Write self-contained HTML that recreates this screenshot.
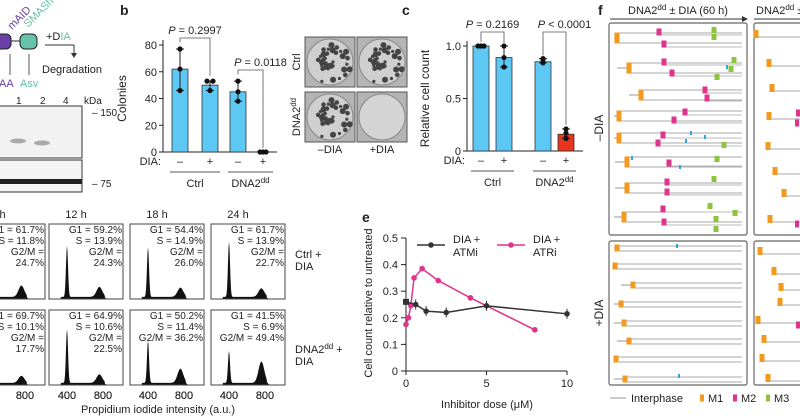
<!DOCTYPE html>
<html><head><meta charset="utf-8"><style>
body{margin:0;background:#fff;width:800px;height:419px;overflow:hidden;font-family:"Liberation Sans",sans-serif}
svg{position:absolute;left:0;top:0}
text{font-family:"Liberation Sans",sans-serif;fill:#222}
</style></head><body>
<svg id="fig" width="800" height="419" viewBox="0 0 800 419">
 <g>
  <rect x="-6" y="34" width="17" height="15" rx="5" fill="#6a3fa6" stroke="#222"/>
  <line x1="11" y1="41" x2="20" y2="41" stroke="#222"/>
  <rect x="20" y="34" width="17" height="15" rx="5" fill="#66c2aa" stroke="#222"/>
  <text x="12" y="30" font-size="11" style="fill:#6a3fa6" transform="rotate(-45 12 30)">mAID</text>
  <text x="28" y="28" font-size="11" style="fill:#66c2aa" transform="rotate(-45 28 28)">SMASh</text>
  <line x1="10" y1="75" x2="10" y2="54" stroke="#555"/><line x1="29" y1="75" x2="29" y2="54" stroke="#555"/>
  <text x="-4" y="87" font-size="11" style="fill:#6a3fa6">IAA</text><text x="20" y="87" font-size="11" style="fill:#66c2aa">Asv</text>
  <text x="46" y="40" font-size="11">+D<tspan style="fill:#66c2aa">IA</tspan></text>
  <path d="M45 45 H74 V56" fill="none" stroke="#333"/><path d="M71 53 L74 58 L77 53" fill="#333"/>
  <text x="42" y="73" font-size="11">Degradation</text>
  <text x="16" y="104" font-size="10">1</text><text x="40" y="104" font-size="10">2</text><text x="63" y="104" font-size="10">4</text><text x="84" y="104" font-size="10">kDa</text>
  <rect x="-2" y="106" width="84" height="52" fill="#f2f2f2" stroke="#333"/>
  <ellipse cx="18" cy="141" rx="8" ry="2.5" fill="#aaa"/><ellipse cx="42" cy="143" rx="8" ry="2.5" fill="#aaa"/>
  <rect x="-2" y="160" width="84" height="32" fill="#f4f4f4" stroke="#333"/>
  <rect x="-2" y="179" width="84" height="5" fill="#222"/>
  <text x="92" y="116" font-size="10">– 150</text><text x="92" y="187" font-size="10">– 75</text>
 </g>
 <text x="120" y="15" font-size="14" font-weight="bold">b</text>
 <text x="402" y="15" font-size="14" font-weight="bold">c</text>
 <text x="598" y="15" font-size="14" font-weight="bold">f</text>
 <text x="362" y="222" font-size="14" font-weight="bold">e</text>
 <g id="pb"></g>
 <g id="plates"></g>
 <g id="pc"></g>
 <g id="pd"></g>
 <g id="pe"></g>
 <g id="pf"></g>
</svg>
<script>
const NS="http://www.w3.org/2000/svg";
function mk(p,t,a,txt){const e=document.createElementNS(NS,t);for(const k in a)e.setAttribute(k,a[k]);if(txt!==undefined)e.textContent=txt;p.appendChild(e);return e;}
// ---- data ----
const bCats=["Ctrl –","Ctrl +","DNA2 –","DNA2 +"];
const bMeans=[62,50,45,0];
const bPoints=[[77,62,46],[53,46,53],[53,45,38],[0,0,0]];
const bTicks=[0,20,40,60,80];
const cMeans=[1.0,0.89,0.85,0.16];
const cPoints=[[1,1,1],[1.0,0.89,0.8],[0.88,0.87,0.84],[0.21,0.12,0.17]];
const cTicks=[0,0.5,1.0];
const eAtmX=[0,0.6,1.25,2.5,5,10];
const eAtmY=[0.26,0.25,0.225,0.22,0.245,0.215];
const eAtrX=[0,0.15,0.3,0.5,1,2,4,8];
const eAtrY=[0.175,0.2,0.245,0.35,0.385,0.34,0.275,0.155];
const eYTicks=[0,0.1,0.2,0.3,0.4,0.5];
const eXTicks=[0,5,10];
const dTimes=["0 h","12 h","18 h","24 h"];
const dCtrlText=[["G1 = 61.7%","S = 11.8%","G2/M =","24.7%"],["G1 = 59.2%","S = 13.9%","G2/M =","24.3%"],["G1 = 54.4%","S = 14.9%","G2/M =","26.0%"],["G1 = 61.7%","S = 13.9%","G2/M =","22.7%"]];
const dDnaText=[["G1 = 69.7%","S = 10.1%","G2/M =","17.7%"],["G1 = 64.9%","S = 10.6%","G2/M =","22.5%"],["G1 = 50.2%","S = 11.4%","G2/M = 36.2%"],["G1 = 41.5%","S = 6.9%","G2/M = 49.4%"]];
const dCtrlG1=[0.75,0.72,0.7,0.78], dCtrlG2=[0.16,0.14,0.13,0.12];
const dDnaG1=[0.72,0.76,0.6,0.45], dDnaG2=[0.1,0.12,0.2,0.3];

function barChart(g,o){
  const y=v=>o.y0-(v-o.min)/(o.max-o.min)*(o.y0-o.y1);
  mk(g,"line",{x1:o.ax,y1:o.y1-5,x2:o.ax,y2:o.y0,stroke:"#222",});
  mk(g,"line",{x1:o.ax,y1:o.y0,x2:o.axEnd,y2:o.y0,stroke:"#222",});
  o.ticks.forEach(t=>{mk(g,"line",{x1:o.ax-4,x2:o.ax,y1:y(t),y2:y(t),stroke:"#222"});
    const tl=mk(g,"text",{x:o.ax-6,y:y(t)+4,"font-size":11,"text-anchor":"end"},o.tl(t));});
  o.means.forEach((m,i)=>{const cx=o.cx[i];
    const r=mk(g,"rect",{x:cx-8,y:y(m),width:16,height:Math.max(o.y0-y(m),0),fill:o.colors[i],stroke:"#333","stroke-width":0.8});
    
    const pts=o.pts[i],mn=Math.min(...pts),mx=Math.max(...pts);
    mk(g,"line",{x1:cx,x2:cx,y1:y(mx),y2:y(mn),stroke:"#222"});
    mk(g,"line",{x1:cx-4,x2:cx+4,y1:y(mx),y2:y(mx),stroke:"#222"});mk(g,"line",{x1:cx-4,x2:cx+4,y1:y(mn),y2:y(mn),stroke:"#222"});
    pts.forEach((p,k)=>{const d=mk(g,"circle",{cx:cx+(k-1)*(p===pts[(k+1)%3]||p===pts[(k+2)%3]?3:0),cy:y(p),r:2.6,fill:"#111"});});
    mk(g,"text",{x:cx,y:o.y0+13,"font-size":11,"text-anchor":"middle"},i%2?"+":"–");});
  mk(g,"text",{x:o.ax-2,y:o.y0+13,"font-size":11,"text-anchor":"end"},"DIA:");
  mk(g,"line",{x1:o.cx[0]-10,x2:o.cx[1]+10,y1:o.y0+20,y2:o.y0+20,stroke:"#555"});
  mk(g,"line",{x1:o.cx[2]-10,x2:o.cx[3]+10,y1:o.y0+20,y2:o.y0+20,stroke:"#555"});
  mk(g,"text",{x:(o.cx[0]+o.cx[1])/2,y:o.y0+35,"font-size":11,"text-anchor":"middle"},"Ctrl");
  const t=mk(g,"text",{x:(o.cx[2]+o.cx[3])/2,y:o.y0+35,"font-size":11,"text-anchor":"middle"},"DNA2");mk(t,"tspan",{dy:-4,"font-size":8},"dd");
  const yl=mk(g,"text",{x:0,y:0,"font-size":12,"text-anchor":"middle",transform:`translate(${o.ax-o.yoff},${(o.y0+o.y1)/2}) rotate(-90)`},o.ylab);
  
  o.pv.forEach(p=>{const a=o.cx[p.i],b=o.cx[p.i+1],top=p.ly;
    mk(g,"path",{d:`M${a} ${y(p.ya)} V${top} H${b} V${y(p.yb)}`,fill:"none",stroke:"#555","stroke-width":0.8});
    const pt=mk(g,"text",{x:(a+b)/2+p.dx,y:top-4,"font-size":11,"text-anchor":"middle"});mk(pt,"tspan",{"font-style":"italic"},"P");mk(pt,"tspan",{},p.t);});
}
barChart(document.getElementById("pb"),{ax:163,axEnd:277,y0:152,y1:45,min:0,max:80,ticks:bTicks,tl:t=>t,means:bMeans,pts:bPoints,cx:[180,210,238,263],colors:["#5ec8f5","#5ec8f5","#5ec8f5","#5ec8f5"],ylab:"Colonies",yoff:37,
 pv:[{i:0,ya:82,yb:57,ly:38,t:" = 0.2997",dx:0},{i:2,ya:58,yb:3,ly:70,t:" = 0.0118",dx:10}]});
barChart(document.getElementById("pc"),{ax:467,axEnd:583,y0:151,y1:46,min:0,max:1,ticks:cTicks,tl:t=>t===0?"0":t.toFixed(1),means:cMeans,pts:cPoints,cx:[481,504,543,566],colors:["#5ec8f5","#5ec8f5","#5ec8f5","#e8341c"],ylab:"Relative cell count",yoff:38,
 pv:[{i:0,ya:1.04,yb:1.03,ly:32,t:" = 0.2169",dx:0},{i:2,ya:0.91,yb:0.25,ly:32,t:" < 0.0001",dx:10}]});

(function(){const g=document.getElementById("plates");
 [[305,37,1],[357,37,1],[305,92,1],[357,92,0]].forEach((p,i)=>{
  const r=mk(g,"rect",{x:p[0],y:p[1],width:50,height:50,fill:"#b4b4b4",stroke:"#555"});
  mk(g,"circle",{cx:p[0]+25,cy:p[1]+25,r:23,fill:p[2]?"#cfcfcf":"#d4d4d4",stroke:"#888"});
  if(p[2])for(let k=0;k<34;k++){const a=k*2.4,rr=3+((k*7)%19);mk(g,"circle",{cx:p[0]+25+Math.cos(a)*rr,cy:p[1]+25+Math.sin(a)*rr,r:1.6+(k%3)*0.7,fill:"#444"});}
 });
 mk(g,"text",{x:0,y:0,"font-size":11,"text-anchor":"middle",transform:"translate(300,62) rotate(-90)"},"Ctrl");
 const t=mk(g,"text",{x:0,y:0,"font-size":11,"text-anchor":"middle",transform:"translate(300,117) rotate(-90)"},"DNA2");mk(t,"tspan",{dy:-4,"font-size":8},"dd");
 mk(g,"text",{x:330,y:153,"font-size":11,"text-anchor":"middle"},"–DIA");mk(g,"text",{x:382,y:153,"font-size":11,"text-anchor":"middle"},"+DIA");
})();

(function(){const g=document.getElementById("pd");
 const lefts=[-29,49,130,211],W=74,rows=[[224,299],[310,385]];
 const xs=v=>18+(v-400)*0.09;
 function hist(x0,yb,h,g1,g2){let d=`M${x0} ${yb}`;
  for(let px=0;px<=W;px+=0.5){const v=400+(px-18)/0.09;
   let f=g1*Math.exp(-Math.pow((v-400)/16,2))+g2*Math.exp(-Math.pow((v-760)/45,2))+0.03*(v>330&&v<820?1:0);
   d+=` L${x0+px} ${yb-f*h}`;}
  return d+` L${x0+W} ${yb} Z`;}
 dTimes.forEach((t,i)=>{mk(g,"text",{x:lefts[i]+W/2-10,y:218,"font-size":11,"text-anchor":"middle"},t);});
 [[dCtrlText,dCtrlG1,dCtrlG2],[dDnaText,dDnaG1,dDnaG2]].forEach((r,ri)=>{const [y0,y1]=rows[ri];
  r[0].forEach((lines,i)=>{const x=lefts[i];
   const p=mk(g,"path",{d:hist(x,y1,y1-y0-4,r[1][i],r[2][i]),fill:"#111"});
   mk(g,"rect",{x:x,y:y0,width:W,height:y1-y0,fill:"none",stroke:"#444"});
   lines.forEach((l,k)=>mk(g,"text",{x:x+W-1,y:y0+9+k*11,"font-size":10,"text-anchor":"end"},l));
   [400,800].forEach(v=>{if(x+xs(v)>5)mk(g,"text",{x:x+xs(v),y:399,"font-size":11,"text-anchor":"middle"},v);});
  });});
 mk(g,"text",{x:295,y:258,"font-size":11},"Ctrl +");mk(g,"text",{x:295,y:270,"font-size":11},"DIA");
 const t=mk(g,"text",{x:295,y:353,"font-size":11},"DNA2");mk(t,"tspan",{dy:-4,"font-size":8},"dd");mk(t,"tspan",{dy:4}," +");
 mk(g,"text",{x:295,y:365,"font-size":11},"DIA");
 mk(g,"text",{x:158,y:413,"font-size":11,"text-anchor":"middle"},"Propidium iodide intensity (a.u.)");
})();

(function(){const g=document.getElementById("pe");
 const X=v=>406+v*16.1, Y=v=>371-v*266;
 mk(g,"line",{x1:406,x2:406,y1:Y(0.5),y2:Y(0),stroke:"#222"});mk(g,"line",{x1:406,x2:X(10),y1:Y(0),y2:Y(0),stroke:"#222"});
 eYTicks.forEach(t=>{mk(g,"line",{x1:401,x2:406,y1:Y(t),y2:Y(t),stroke:"#222"});mk(g,"text",{x:398,y:Y(t)+4,"font-size":11,"text-anchor":"end"},t===0?"0":t.toFixed(1));});
 eXTicks.forEach(t=>{mk(g,"line",{x1:X(t),x2:X(t),y1:Y(0),y2:Y(0)+4,stroke:"#222"});mk(g,"text",{x:X(t),y:Y(0)+16,"font-size":11,"text-anchor":"middle"},t);});
 mk(g,"text",{x:0,y:0,"font-size":11,"text-anchor":"middle",transform:"translate(372,303) rotate(-90)"},"Cell count relative to untreated");
 mk(g,"text",{x:487,y:408,"font-size":11,"text-anchor":"middle"},"Inhibitor dose (μM)");
 const atr=mk(g,"polyline",{points:eAtrX.map((x,i)=>X(x)+","+Y(eAtrY[i])).join(" "),fill:"none",stroke:"#e0338c","stroke-width":1.5});
 
 eAtrX.forEach((x,i)=>{const c=mk(g,"circle",{cx:X(x),cy:Y(eAtrY[i]),r:2.8,fill:"#e0338c"});});
 const atm=mk(g,"polyline",{points:eAtmX.map((x,i)=>X(x)+","+Y(eAtmY[i])).join(" "),fill:"none",stroke:"#333","stroke-width":1.5});
 
 eAtmX.forEach((x,i)=>{const cx=X(x),cy=Y(eAtmY[i]);mk(g,"line",{x1:cx,x2:cx,y1:cy-5,y2:cy+5,stroke:"#333"});
  const c=i===0?mk(g,"rect",{x:cx-3,y:cy-3,width:6,height:6,fill:"#333"}):mk(g,"circle",{cx:cx,cy:cy,r:2.8,fill:"#333"});});
 mk(g,"line",{x1:417,x2:445,y1:245,y2:245,stroke:"#333","stroke-width":1.5});mk(g,"circle",{cx:431,cy:245,r:2.8,fill:"#333"});
 mk(g,"text",{x:453,y:243,"font-size":11},"DIA +");mk(g,"text",{x:453,y:256,"font-size":11},"ATMi");
 mk(g,"line",{x1:497,x2:525,y1:245,y2:245,stroke:"#e0338c","stroke-width":1.5});mk(g,"circle",{cx:511,cy:245,r:2.8,fill:"#e0338c"});
 mk(g,"text",{x:533,y:243,"font-size":11},"DIA +");mk(g,"text",{x:533,y:256,"font-size":11},"ATRi");
})();

const fMinusGroups=[38,68,95,116,138,162,188,217];
const fMinusM1=[617,629,641,619,619,627,627,624];
const fM2=[[659,32],[664,44],[664,62],[672,73],[705,90],[707,98],[685,112],[674,120],[663,135],[658,143],[669,163],[667,182],[667,192],[663,209],[664,222]];
const fM3=[[714,30],[714,37],[734,60],[731,69],[717,77],[724,145],[717,159],[714,179],[710,206],[735,213],[716,219],[716,229]];
const fBlue=[[727,67],[691,133],[705,137],[686,141],[632,158],[680,167]];
const fPlusGroups=[248,266,285,304,323,341,359,379];
const fPlusM1=[617,615,633,621,624,629,616,625];
(function(){const g=document.getElementById("pf");
 const t=mk(g,"text",{x:678,y:14,"font-size":11,"text-anchor":"middle"},"DNA2");mk(t,"tspan",{dy:-4,"font-size":8},"dd");mk(t,"tspan",{dy:4}," ± DIA (60 h)");
 const t2=mk(g,"text",{x:756,y:14,"font-size":11},"DNA2");mk(t2,"tspan",{dy:-4,"font-size":8},"dd");mk(t2,"tspan",{dy:4}," ±");
 mk(g,"line",{x1:610,x2:744,y1:19,y2:19,stroke:"#333"});mk(g,"path",{d:"M742 16 L748 19 L742 22Z",fill:"#333"});mk(g,"line",{x1:754,x2:800,y1:19,y2:19,stroke:"#333"});
 [[609,23,138,212],[754,23,60,212],[609,241,138,144],[754,241,60,144]].forEach((b,i)=>{const r=mk(g,"rect",{x:b[0],y:b[1],width:b[2],height:b[3],fill:"none",stroke:"#666","stroke-width":1.2,rx:2});});
 mk(g,"text",{x:0,y:0,"font-size":12,"text-anchor":"middle",transform:"translate(603,128) rotate(-90)"},"–DIA");
 mk(g,"text",{x:0,y:0,"font-size":12,"text-anchor":"middle",transform:"translate(603,313) rotate(-90)"},"+DIA");
 const mark=(x,y,c,w,h)=>{const m=mk(g,"rect",{x:x-w/2,y:y-h/2,width:w,height:h,fill:c});};
 fMinusGroups.forEach((y,i)=>{const m=fMinusM1[i];
  mk(g,"line",{x1:Math.max(614,m-12),x2:m,y1:y,y2:y,stroke:"#999"});
  [-5,5].forEach(d=>mk(g,"line",{x1:m,x2:742,y1:y+d,y2:y+d,stroke:"#aaa"}));mark(m,y,"#f39a1e",5,11);});
 fM2.forEach(p=>{mk(g,"line",{x1:p[0],x2:742,y1:p[1]+3,y2:p[1]+3,stroke:"#bbb"});mark(p[0],p[1],"#e0338c",5,7);});
 fM3.forEach(p=>mark(p[0],p[1],"#8cc43c",5,6));
 fBlue.forEach(p=>mark(p[0],p[1],"#2aa7e0",2,4));
 fPlusGroups.forEach((y,i)=>{const m=fPlusM1[i];
  mk(g,"line",{x1:Math.max(614,m-12),x2:m,y1:y,y2:y,stroke:"#999"});
  [-2,3].forEach(d=>mk(g,"line",{x1:m,x2:742,y1:y+d,y2:y+d,stroke:"#aaa"}));mark(m,y,"#f39a1e",5,7);});
 mark(677,246,"#2aa7e0",2,4);mark(679,376,"#2aa7e0",2,4);
 [[756,34],[769,63],[772,88],[769,116],[768,146],[775,171],[784,193],[770,219],[760,251],[774,271],[781,287],[780,302],[758,320],[764,339],[762,358],[768,378]].forEach(p=>{mk(g,"line",{x1:p[0],x2:800,y1:p[1]+3,y2:p[1]+3,stroke:"#aaa"});mark(p[0],p[1],"#f39a1e",5,8);});
 mark(798,113,"#e0338c",4,7);mark(797,123,"#e0338c",4,7);mark(797,224,"#e0338c",4,7);mark(798,325,"#e0338c",4,7);
 mk(g,"line",{x1:610,x2:626,y1:398,y2:398,stroke:"#999"});mk(g,"text",{x:631,y:402,"font-size":11},"Interphase");
 mark(702,398,"#f39a1e",4,7);mk(g,"text",{x:708,y:402,"font-size":11},"M1");
 mark(735,398,"#e0338c",4,7);mk(g,"text",{x:741,y:402,"font-size":11},"M2");
 mark(768,398,"#8cc43c",4,7);mk(g,"text",{x:774,y:402,"font-size":11},"M3");
})();
</script>
</body></html>
